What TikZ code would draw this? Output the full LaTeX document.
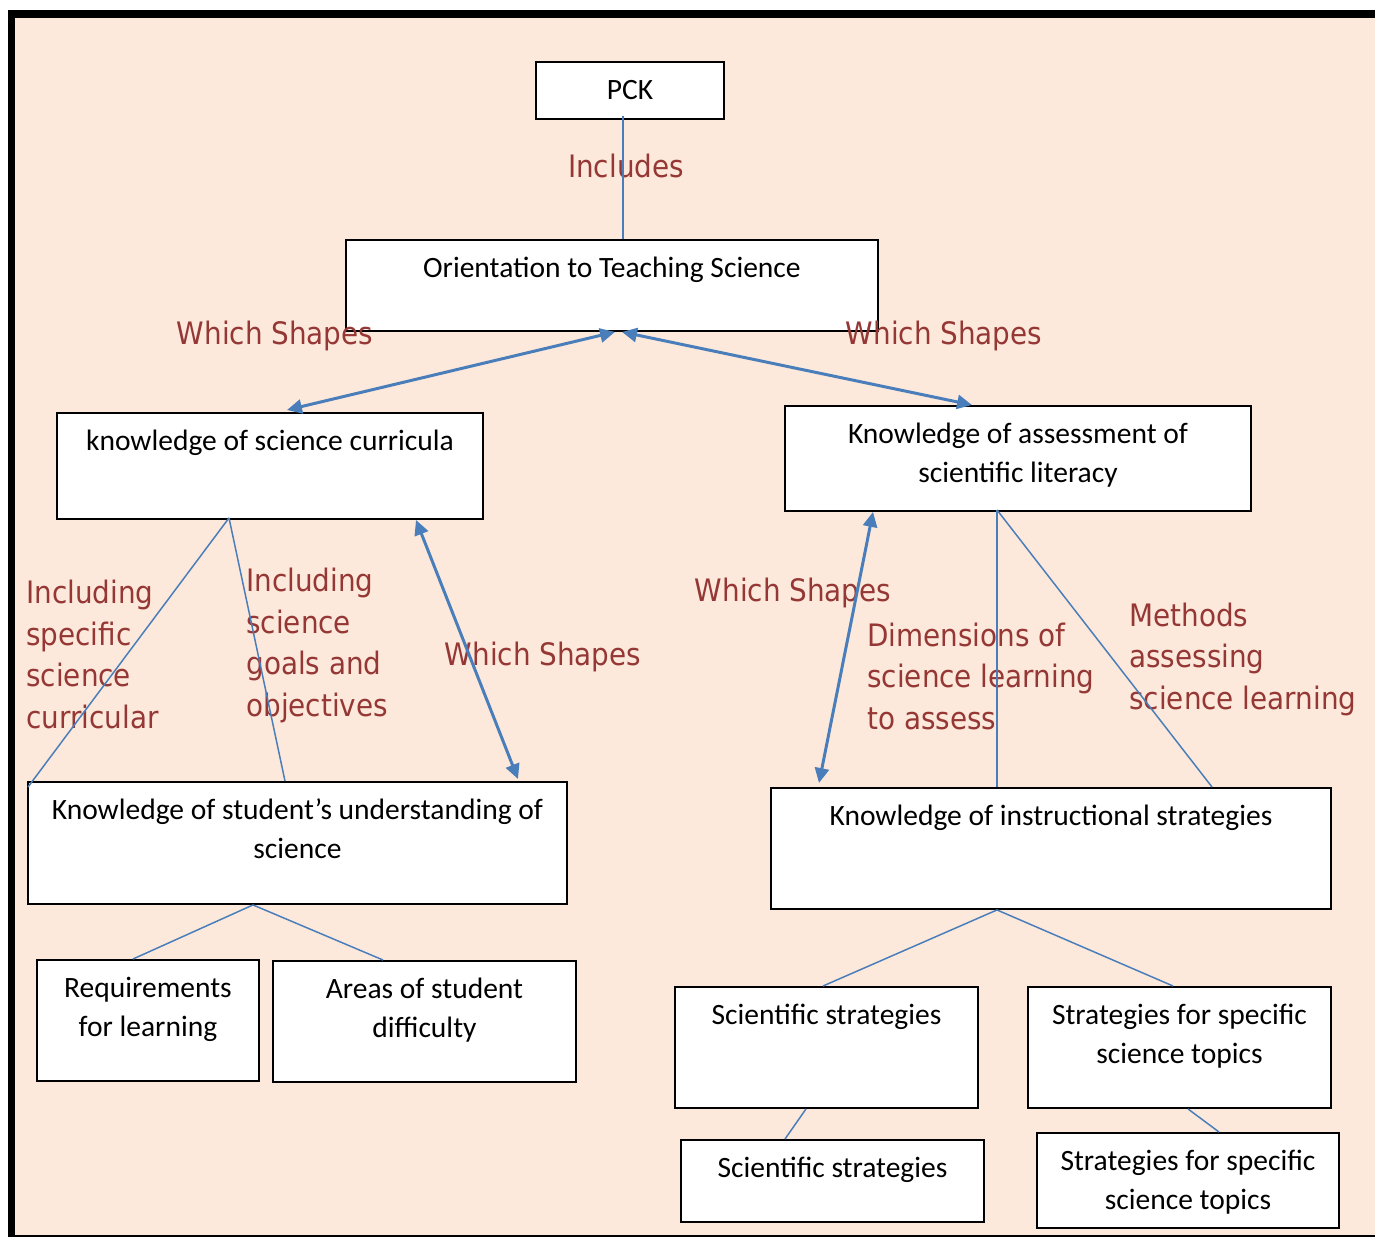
\documentclass[tikz,border=0pt]{standalone}
\usepackage{fontspec}
\setmainfont{Carlito}
\newfontfamily\labelfont[FakeStretch=0.9]{DejaVu Sans}
\usetikzlibrary{arrows.meta,calc}
\definecolor{peach}{RGB}{252,233,219}
\definecolor{linkblue}{RGB}{74,126,187}
\definecolor{labelred}{RGB}{149,55,53}
\newlength\px
\setlength\px{0.02cm}
\newcommand{\boxtext}[3]{\parbox[c][#2\px][t]{#1\px}{\centering\fontsize{16.8}{21.8}\selectfont\rule{0pt}{38\px}#3}}

\tikzset{
  box/.style={draw=black,fill=white,line width=1.1pt,inner sep=0pt,anchor=north west},
  link/.style={draw=linkblue,line width=0.85pt},
  twoway/.style={draw=linkblue,line width=1.7pt,{Triangle[length=8.5pt,width=8pt]}-{Triangle[length=8.5pt,width=8pt]}},
  tag/.style={text=labelred,font=\labelfont\fontsize{17.6}{23.6}\selectfont,inner sep=0pt,align=left}
}

\begin{document}
\begin{tikzpicture}[x=0.02cm,y=-0.02cm]
    \useasboundingbox (0,0) rectangle (1375,1237);
    % frame
    \fill[peach] (15,18) rectangle (1375,1237);
    \fill[black] (7.5,10) rectangle (1375,18);
    \fill[black] (7.5,10) rectangle (15,1237);
    \draw[line width=1pt] (15,1236) -- (1375,1236);

    % boxes
    \node[box] (pck) at (535,61) {\boxtext{188}{57}{PCK}};
    \node[box] (orient) at (345,239) {\boxtext{532}{91}{Orientation to Teaching Science}};
    \node[box] (curr) at (56,412) {\boxtext{426}{106}{knowledge of science curricula}};
    \node[box] (assess) at (784,405) {\boxtext{466}{105}{Knowledge of assessment of\\scientific literacy}};
    \node[box] (stud) at (27,781) {\boxtext{539}{122}{Knowledge of student’s understanding of\\science}};
    \node[box] (req) at (36,959) {\boxtext{222}{121}{Requirements\\for learning}};
    \node[box] (areas) at (272,960) {\boxtext{303}{121}{Areas of student\\difficulty}};
    \node[box] (instr) at (770,787) {\boxtext{560}{121}{Knowledge of instructional strategies}};
    \node[box] (sci) at (674,986) {\boxtext{303}{121}{Scientific strategies}};
    \node[box] (spec) at (1027,986) {\boxtext{303}{121}{Strategies for specific\\science topics}};
    \node[box] (sciB) at (680,1139) {\boxtext{303}{82}{Scientific strategies}};
    \node[box] (specB) at (1036,1132) {\boxtext{302}{95}{Strategies for specific\\science topics}};

    % labels (multi-line ones sit on their last baseline)
    \node[tag,anchor=base] (inc) at (626,177) {Includes};
    \node[tag,anchor=base] (wsA) at (275,344) {Which Shapes};
    \node[tag,anchor=base] (wsB) at (944,344) {Which Shapes};
    \node[tag,anchor=base west] (incA) at (26,728) {Including\\specific\\science\\curricular};
    \node[tag,anchor=base west] (incB) at (246,716) {Including\\science\\goals and\\objectives};
    \node[tag,anchor=base] (wsC) at (543,665) {Which Shapes};
    \node[tag,anchor=base] (wsD) at (793,601) {Which Shapes};
    \node[tag,anchor=base west] (dim) at (867,729) {Dimensions of\\science learning\\to assess};
    \node[tag,anchor=base west] (meth) at (1129,709) {Methods\\assessing\\science learning};

    % connectors
    \draw[link] ($(pck.south west)+(88,-4)$) -- ($(orient.north west)+(278,0)$);
    \draw[twoway] ($(orient.south west)+(270,0)$) -- ($(curr.north west)+(231,-2)$);
    \draw[twoway] ($(orient.south west)+(277,0)$) -- ($(assess.north west)+(188,0)$);
    \draw[link] ($(curr.south west)+(173,-2)$) -- ($(stud.north west)+(1,6)$);
    \draw[link] ($(curr.south west)+(173,-2)$) -- ($(stud.north west)+(258,0)$);
    \draw[twoway] ($(curr.south west)+(360,0)$) -- ($(stud.north west)+(491,-2)$);
    \draw[twoway] ($(assess.south west)+(89,0)$) -- ($(instr.north west)+(49,-4)$);
    \draw[link] ($(assess.south west)+(213,-2)$) -- ($(instr.north west)+(227,0)$);
    \draw[link] ($(assess.south west)+(213,-2)$) -- ($(instr.north west)+(442,0)$);
    \draw[link] (stud.south west -| 253,0) -- ($(req.north west)+(97,0)$);
    \draw[link] (stud.south west -| 253,0) -- ($(areas.north west)+(111,0)$);
    \draw[link] ($(instr.south west)+(227,0)$) -- ($(sci.north west)+(149,0)$);
    \draw[link] ($(instr.south west)+(227,0)$) -- ($(spec.north west)+(146,0)$);
    \draw[link] ($(sci.south west)+(132,0)$) -- ($(sciB.north west)+(105,0)$);
    \draw[link] ($(spec.south west)+(161,0)$) -- ($(specB.north west)+(183,0)$);
\end{tikzpicture}
\end{document}
